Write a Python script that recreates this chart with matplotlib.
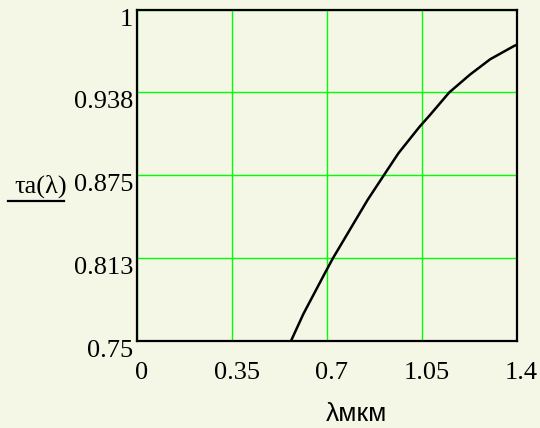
import matplotlib
matplotlib.use("Agg")
import matplotlib.pyplot as plt
from matplotlib.transforms import offset_copy, blended_transform_factory

# values
lam = [0.568, 0.614, 0.694, 0.723, 0.80, 0.851, 0.909, 0.964, 1.042, 1.079,
       1.152, 1.229, 1.303, 1.391, 1.40]
tau = [0.750, 0.7705, 0.8015, 0.8125, 0.839, 0.8565, 0.8745, 0.8915, 0.9115, 0.920,
       0.9375, 0.951, 0.9625, 0.9725, 0.9733]

xticks = [0, 0.35, 0.7, 1.05, 1.4]
xtick_labels = ["0", "0.35", "0.7", "1.05", "1.4"]
yticks = [0.75, 0.8125, 0.875, 0.9375, 1.0]
ytick_labels = ["0.75", "0.813", "0.875", "0.938", "1"]

bg = "#f5f7e6"
serif = "Liberation Serif"

fig = plt.figure(figsize=(5.4, 4.28), dpi=100, facecolor=bg)
ax = fig.add_axes([0.2537, 0.2033, 0.7028, 0.7745])
ax.set_facecolor(bg)

ax.plot(lam, tau, color="black", linewidth=1.8, solid_joinstyle="round")

ax.set_xlim(0, 1.4)
ax.set_ylim(0.75, 1.0)
ax.set_xticks(xticks)
ax.set_yticks(yticks)
ax.grid(True, color="#00ff00", linewidth=1.0)
ax.tick_params(length=0, labelbottom=False, labelleft=False)
for s in ax.spines.values():
    s.set_linewidth(1.6)
    s.set_color("black")

# tick labels in Mathcad style (slightly below their grid lines)
ty = blended_transform_factory(ax.transAxes, ax.transData)
ty = offset_copy(ty, fig=fig, x=-4, y=-16, units="dots")
for v, t in zip(yticks, ytick_labels):
    ax.text(0, v, t, transform=ty, ha="right", va="baseline",
            family=serif, fontsize=19)

tx = blended_transform_factory(ax.transData, ax.transAxes)
tx = offset_copy(tx, fig=fig, x=5, y=-38, units="dots")
for v, t in zip(xticks, xtick_labels):
    ax.text(v, 0, t, transform=tx, ha="center", va="baseline",
            family=serif, fontsize=19)

# axis labels
fig.text(357 / 540, 1 - 421 / 428, "λмкм", ha="center", va="baseline",
         family="Liberation Sans", fontsize=19)
fig.text(14 / 540, 1 - 193 / 428, "τa(λ)", ha="left", va="baseline",
         family=serif, fontsize=19)
fig.add_artist(plt.Line2D([8 / 540, 64 / 540], [1 - 201 / 428, 1 - 201 / 428],
                          color="black", linewidth=1.6))

fig.savefig("out.png", dpi=100, facecolor=bg)
